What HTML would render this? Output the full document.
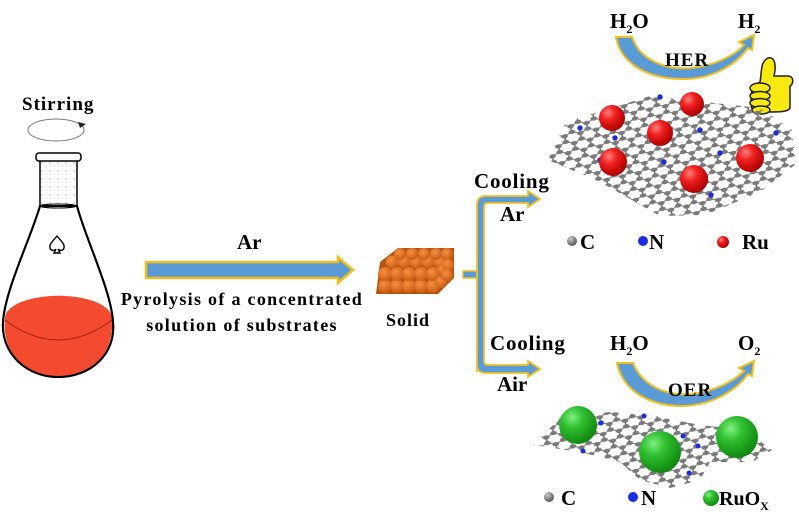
<!DOCTYPE html>
<html><head><meta charset="utf-8"><style>
body{margin:0;background:#fff}
svg{display:block}
text{font-family:"Liberation Serif",serif;font-weight:bold;fill:#000}
</style></head><body>
<svg width="799" height="528" viewBox="0 0 799 528" xmlns="http://www.w3.org/2000/svg">
<defs>
<radialGradient id="red" cx="35%" cy="30%" r="70%"><stop offset="0" stop-color="#ff8080"/><stop offset="0.4" stop-color="#f02020"/><stop offset="1" stop-color="#b00000"/></radialGradient>
<radialGradient id="grn" cx="35%" cy="30%" r="70%"><stop offset="0" stop-color="#80f080"/><stop offset="0.4" stop-color="#30c030"/><stop offset="1" stop-color="#108a10"/></radialGradient>
<radialGradient id="gry" cx="35%" cy="30%" r="70%"><stop offset="0" stop-color="#ccc"/><stop offset="1" stop-color="#555"/></radialGradient>
<radialGradient id="org" cx="40%" cy="35%" r="70%"><stop offset="0" stop-color="#f59040"/><stop offset="1" stop-color="#c85a10"/></radialGradient>
<pattern id="hex" width="10.4" height="18" patternUnits="userSpaceOnUse" patternTransform="rotate(-12) scale(1.55,0.95)">
<g stroke="#666" stroke-width="0.9" fill="none">
<path d="M5.2 0L10.4 3M5.2 0L0 3M0 3V9M10.4 3V9M0 9L5.2 12M10.4 9L5.2 12M5.2 12V18"/>
</g>
<g fill="#7a7a7a"><circle cx="5.2" cy="0" r="2.2"/><circle cx="0" cy="3" r="2.2"/><circle cx="10.4" cy="3" r="2.2"/><circle cx="0" cy="9" r="2.2"/><circle cx="10.4" cy="9" r="2.2"/><circle cx="5.2" cy="12" r="2.2"/><circle cx="5.2" cy="18" r="2.2"/></g>
</pattern>
<pattern id="dots" width="8" height="8" patternUnits="userSpaceOnUse"><circle cx="2" cy="3" r="0.6" fill="#888"/><circle cx="6" cy="6" r="0.5" fill="#999"/></pattern>
</defs>

<!-- Stirring -->
<text x="22" y="110" font-size="19" letter-spacing="1">Stirring</text>
<ellipse cx="56" cy="130" rx="28" ry="11" fill="none" stroke="#777" stroke-width="1"/>
<path d="M78 122l8 2-6 4z" fill="#222"/>

<!-- flask -->
<path d="M40 206 C30 240 5 290 3 322 C1 355 28 377 58 377 C90 377 116 355 113 322 C111 290 86 240 77 206 Z" fill="#fff" stroke="#000" stroke-width="2"/>
<path d="M5 318 A53 22 0 0 1 112 318 C115 355 90 377 58 377 C28 377 1 355 5 318Z" fill="#f44a30"/>
<path d="M5 320 Q58 360 112 320" fill="none" stroke="#a02010" stroke-width="1"/>
<path d="M40 206 C30 240 5 290 3 322 C1 355 28 377 58 377 C90 377 116 355 113 322 C111 290 86 240 77 206" fill="none" stroke="#000" stroke-width="2"/>
<rect x="40" y="160" width="37" height="46" fill="url(#dots)" stroke="#000" stroke-width="1.5"/>
<ellipse cx="58" cy="206" rx="18" ry="2" fill="none" stroke="#000" stroke-width="1"/>
<rect x="36" y="153" width="45" height="8" rx="3" fill="#fff" stroke="#000" stroke-width="1.5"/>
<path d="M57 236 C53 241 49 244 50 248 C51 251 55 251 56 249 L54 253 L60 253 L58 249 C59 251 63 251 64 248 C65 244 61 241 57 236Z" fill="#fff" stroke="#000" stroke-width="1.4"/>

<!-- main arrow -->
<path d="M146 262 H338 V257 L353 270 L338 283 V278 H146 Z" fill="#5b9bd5" stroke="#f0c020" stroke-width="2.5"/>
<text x="237" y="249" font-size="21">Ar</text>
<text x="242" y="305" font-size="18" letter-spacing="1.3" text-anchor="middle">Pyrolysis of a concentrated</text>
<text x="242" y="331" font-size="18" letter-spacing="1.3" text-anchor="middle">solution of substrates</text>

<!-- solid block -->
<g>
<path d="M380 262 L398 248 H454 V278 L438 294 H376 Z" fill="#b85010"/>
<g fill="url(#org)">
<circle cx="385" cy="286" r="7"/><circle cx="397" cy="286" r="7"/><circle cx="409" cy="286" r="7"/><circle cx="421" cy="286" r="7"/><circle cx="433" cy="286" r="7"/>
<circle cx="385" cy="274" r="7"/><circle cx="397" cy="274" r="7"/><circle cx="409" cy="274" r="7"/><circle cx="421" cy="274" r="7"/><circle cx="433" cy="274" r="7"/>
<circle cx="392" cy="262" r="6.5"/><circle cx="404" cy="262" r="6.5"/><circle cx="416" cy="262" r="6.5"/><circle cx="428" cy="262" r="6.5"/><circle cx="440" cy="262" r="6.5"/>
<circle cx="400" cy="254" r="6"/><circle cx="412" cy="254" r="6"/><circle cx="424" cy="254" r="6"/><circle cx="436" cy="254" r="6"/><circle cx="447" cy="254" r="6"/>
<circle cx="443" cy="270" r="6"/><circle cx="448" cy="265" r="6"/><circle cx="441" cy="282" r="6"/><circle cx="447" cy="275" r="6"/>
</g></g>
<text x="386" y="326" font-size="18" letter-spacing="1">Solid</text>

<!-- bracket -->
<rect x="463" y="271" width="14" height="7" fill="#5b9bd5" stroke="#f0c020" stroke-width="1.5"/>
<path d="M477 372 V205 Q477 196 486 196 H528 V191 L540 199 L528 207 V203 H487 Q484 203 484 207 V361 Q484 365 488 365 H528 V361 L540 369 L528 377 V373 H486 Q477 373 477 365 Z" fill="#5b9bd5" stroke="#f0c020" stroke-width="1.8"/>
<text x="474" y="188" font-size="21" letter-spacing="0.8">Cooling</text>
<text x="500" y="221" font-size="21">Ar</text>
<text x="490" y="350" font-size="21" letter-spacing="0.8">Cooling</text>
<text x="497" y="391" font-size="21">Air</text>

<!-- HER -->
<text x="610" y="28" font-size="21">H<tspan font-size="12" dy="5">2</tspan><tspan dy="-5">O</tspan></text>
<text x="738" y="28" font-size="21">H<tspan font-size="12" dy="5">2</tspan></text>
<path d="M616 37 H632 C640 60 665 70 690 68 C715 66 735 55 744 45 L739 42 L754 35 L752 50 L748 48 C735 66 710 80 680 79 C645 78 620 62 616 37Z" fill="#5b9bd5" stroke="#f0c020" stroke-width="2"/>
<text x="665" y="66" font-size="19" letter-spacing="1">HER</text>

<!-- thumbs up -->
<g stroke="#222" stroke-width="1.5" fill="#f8ea10">
<path d="M760 82 C762 72 760 62 768 58 C776 56 776 68 774 76 L788 76 C794 76 794 84 790 86 L790 108 C788 112 780 112 766 112 L754 112 C750 110 750 90 754 86 Z"/>
<ellipse cx="760" cy="88" rx="10" ry="5"/><ellipse cx="760" cy="96" rx="10" ry="4.5"/><ellipse cx="760" cy="103" rx="10" ry="4.5"/><ellipse cx="761" cy="110" rx="9" ry="4"/>
</g>

<!-- top graphene -->
<path d="M548 160 L566 122 L650 96 L760 108 L792 130 L796 164 L760 192 L705 215 L660 216 L600 182 Z" fill="url(#hex)"/>
<g fill="#1a2ee0"><circle cx="660" cy="97" r="2.7"/><circle cx="580" cy="128" r="2.7"/><circle cx="615" cy="138" r="2.7"/><circle cx="700" cy="130" r="2.7"/><circle cx="776" cy="133" r="2.7"/><circle cx="720" cy="153" r="2.7"/><circle cx="664" cy="162" r="2.7"/><circle cx="711" cy="195" r="2.7"/><circle cx="600" cy="160" r="2.7"/></g>
<g fill="url(#red)"><circle cx="612" cy="118" r="13"/><circle cx="692" cy="104" r="12"/><circle cx="660" cy="133" r="13"/><circle cx="613" cy="162" r="14"/><circle cx="750" cy="158" r="14"/><circle cx="694" cy="179" r="14"/></g>
<!-- legend top -->
<circle cx="572" cy="241" r="5" fill="url(#gry)"/><text x="580" y="249" font-size="21">C</text>
<circle cx="643" cy="241" r="5" fill="#1a2ee0"/><text x="649" y="249" font-size="21">N</text>
<circle cx="723" cy="242" r="6" fill="url(#red)"/><text x="742" y="249" font-size="21">Ru</text>

<!-- OER -->
<text x="610" y="350" font-size="21">H<tspan font-size="12" dy="5">2</tspan><tspan dy="-5">O</tspan></text>
<text x="738" y="350" font-size="21">O<tspan font-size="12" dy="5">2</tspan></text>
<path d="M617 363 H633 C642 385 665 396 690 394 C715 392 735 380 744 371 L739 368 L754 361 L752 376 L748 374 C735 392 710 406 680 406 C645 405 622 388 617 363Z" fill="#5b9bd5" stroke="#f0c020" stroke-width="2"/>
<text x="668" y="396" font-size="19" letter-spacing="1">OER</text>

<!-- bottom graphene -->
<path d="M533 445 L560 418 L610 412 L650 415 L700 425 L745 430 L772 450 L752 462 L710 462 L700 480 L670 488 L640 480 L620 462 L580 452 Z" fill="url(#hex)"/>
<g fill="#1a2ee0"><circle cx="601" cy="423" r="2.5"/><circle cx="644" cy="416" r="2.5"/><circle cx="683" cy="436" r="2.5"/><circle cx="698" cy="446" r="2.5"/><circle cx="583" cy="451" r="2.5"/><circle cx="689" cy="473" r="2.5"/></g>
<g fill="url(#grn)"><circle cx="578" cy="425" r="19"/><circle cx="660" cy="452" r="21"/><circle cx="737" cy="437" r="21"/></g>
<!-- legend bottom -->
<circle cx="549" cy="497" r="5" fill="url(#gry)"/><text x="561" y="505" font-size="21">C</text>
<circle cx="633" cy="497" r="5" fill="#1a2ee0"/><text x="641" y="505" font-size="21">N</text>
<circle cx="711" cy="498" r="8" fill="url(#grn)"/><text x="719" y="505" font-size="20">RuO<tspan font-size="12" dy="5">X</tspan></text>
</svg>
</body></html>
